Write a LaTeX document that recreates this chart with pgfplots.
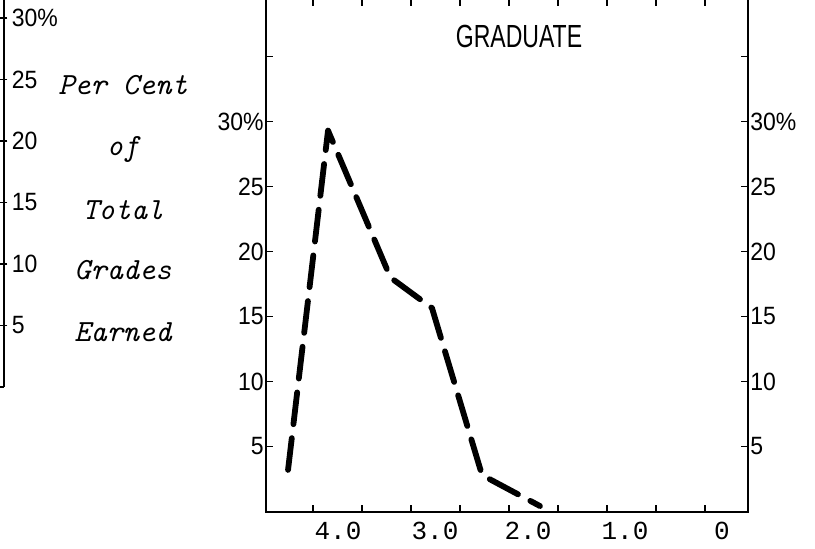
\documentclass[border=0pt]{standalone}
\usepackage{fontspec}
\usepackage{pgfplots}
\pgfplotsset{compat=1.18}
\setmainfont{Liberation Sans}
\newfontfamily\lettering[FakeStretch=0.92]{Liberation Sans}
\newfontfamily\titlefont[FakeStretch=0.72]{Liberation Sans}
\newfontfamily\typer{Liberation Mono}

\pgfplotsset{
  panel/.style={
    scale only axis,
    axis line style={line width=1pt},
    every tick/.style={black, line width=0.9pt},
    major tick length=3.5pt,
    minor tick length=2pt,
    yticklabel style={font=\lettering\fontsize{12.5}{12.5}\selectfont, inner sep=1pt},
  },
  mainbox/.style={
    panel,
    width=241pt, height=256.25pt,
    at={(133pt,18.25pt)}, anchor=south west,
    x dir=reverse,
    xmin=-0.189, xmax=4.73,
    ymin=0, ymax=39.42,
    xtick={4.25,3.75,3.25,2.75,2.25,1.75,1.25,0.75,0.25},
    xticklabels={},
    ytick={5,10,15,20,25,30,35},
    yticklabels={5,10,15,20,25,30\%,{}},
  },
}

\begin{document}
\begin{tikzpicture}
\path[use as bounding box] (0,0) rectangle (407.5pt,274pt);

% right edge of the panel to the left (cut off by the page)
\begin{axis}[
  panel,
  width=200pt, height=196.8pt,
  at={(2pt,80.5pt)}, anchor=south east,
  xmin=0, xmax=1, ymin=0, ymax=32,
  axis x line=bottom, axis y line=right,
  axis line style={-, line width=1pt},
  xtick=\empty,
  ytick={5,10,15,20,25,30},
  yticklabels={5,10,15,20,25,30\%},
  yticklabel style={anchor=west, xshift=1pt},
]
\end{axis}

% main panel, labels on the left
\begin{axis}[
  mainbox,
  extra x ticks={3.995,3.005,2.056,1.066,0.077},
  extra x tick labels={4.0,3.0,2.0,1.0,0},
  extra x tick style={major tick length=0pt,
    tick label style={font=\typer\fontsize{13}{13}\selectfont, yshift=-2pt}},
]
\addplot[black, line width=2.9pt, line cap=round, line join=round,
  dash pattern=on 16pt off 7pt] coordinates {
  (4.505,3.2) (4.097,29.3) (3.46,18.0) (3.036,15.65) (2.525,2.8) (1.934,0.42)
};
\end{axis}

% same panel again, for the labels on the right
\begin{axis}[
  mainbox,
  yticklabel pos=right,
  yticklabel style={anchor=west},
]
\end{axis}

\node[font=\titlefont\fontsize{16}{16}\selectfont] at (259.5pt,256pt) {GRADUATE};

\begin{scope}[every node/.style={font=\ttfamily\itshape\fontsize{15.4}{15.4}\selectfont}]
\node at (61.5pt,231.5pt) {Per Cent};
\node at (61.5pt,199pt) {of};
\node at (61.5pt,169pt) {Total};
\node at (61.5pt,139pt) {Grades};
\node at (61.5pt,108pt) {Earned};
\end{scope}
\end{tikzpicture}
\end{document}
